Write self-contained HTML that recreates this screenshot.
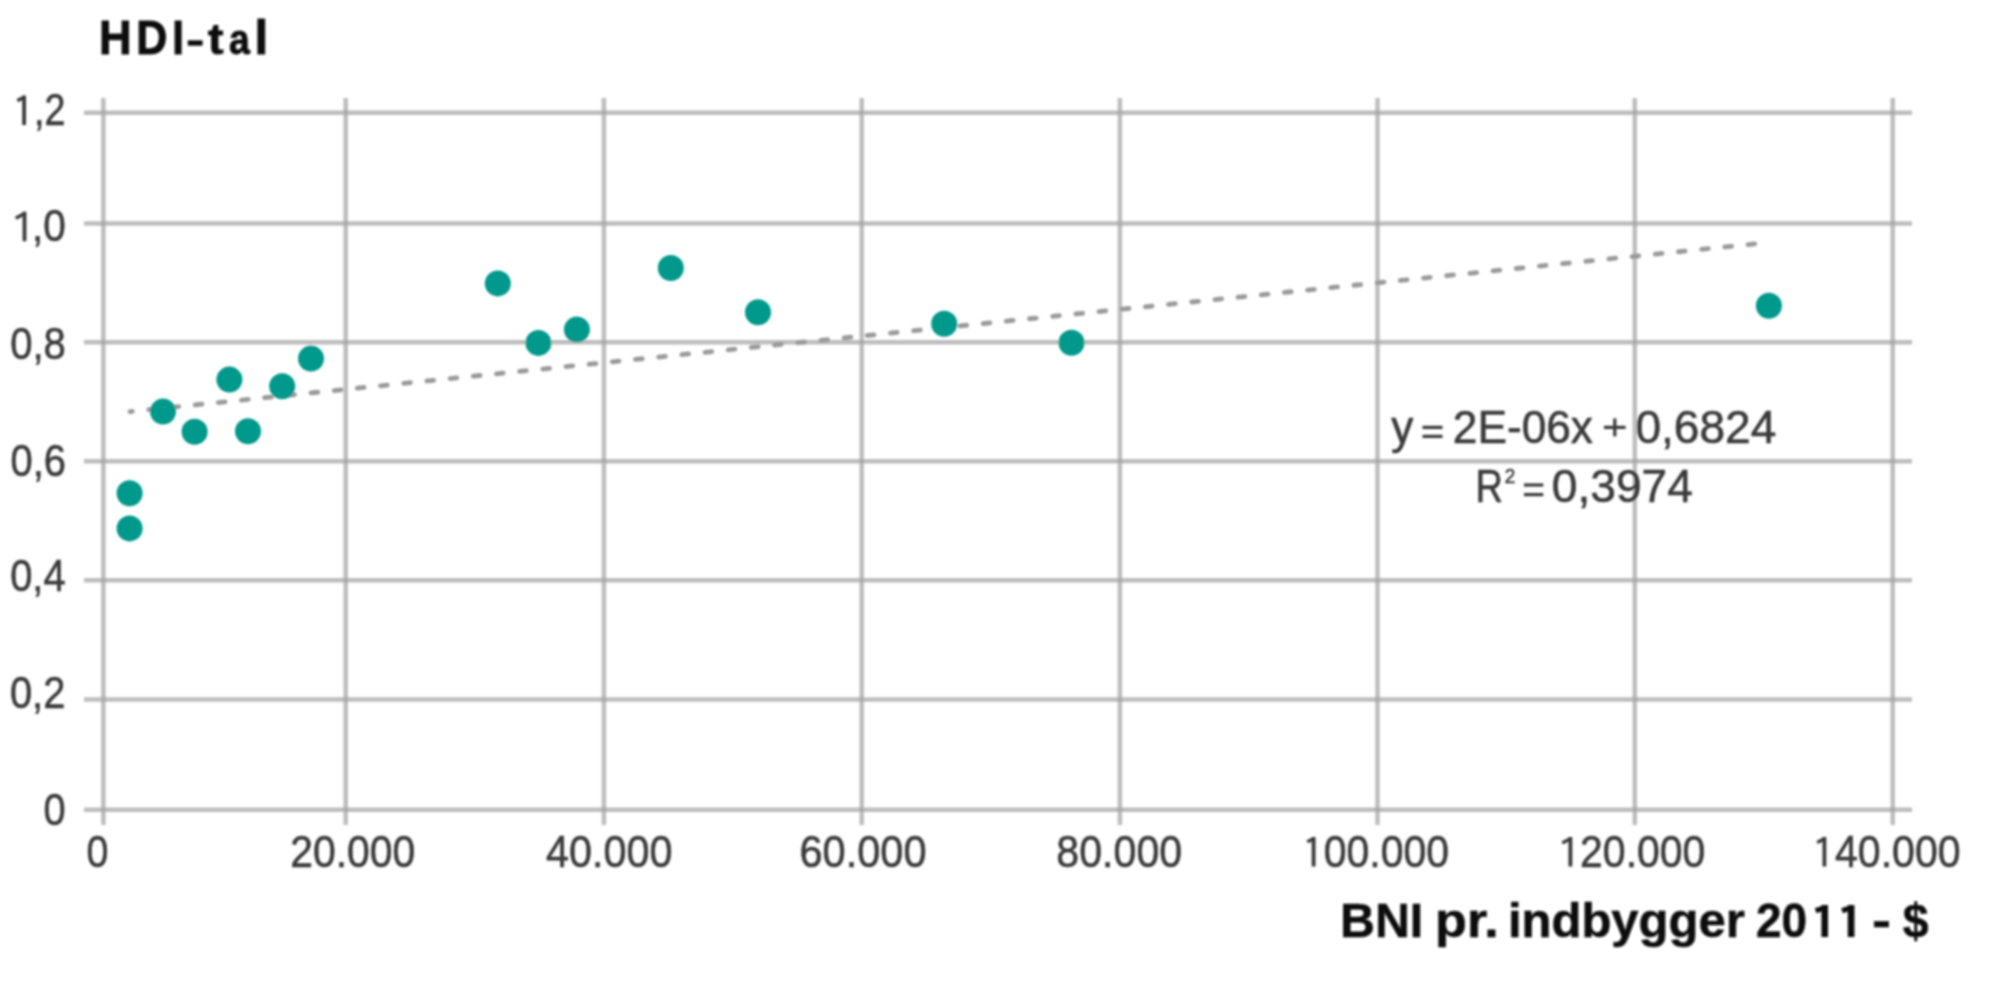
<!DOCTYPE html>
<html><head><meta charset="utf-8"><style>
html,body{margin:0;padding:0;background:#fff;width:2000px;height:1000px;overflow:hidden}
svg{display:block}
text{font-family:"Liberation Sans",sans-serif}
</style></head><body>
<svg width="2000" height="1000" viewBox="0 0 2000 1000">
<defs><filter id="b" x="0" y="0" width="2000" height="1000" filterUnits="userSpaceOnUse"><feGaussianBlur stdDeviation="1.0"/></filter><filter id="b2" x="0" y="0" width="2000" height="1000" filterUnits="userSpaceOnUse"><feGaussianBlur stdDeviation="0.6"/></filter></defs>
<rect width="2000" height="1000" fill="#fff"/>
<g filter="url(#b)">
<path d="M84 112.7H1912 M84 223.4H1912 M84 342.2H1912 M84 461.2H1912 M84 580.3H1912 M84 699.4H1912 M84 809.7H1912 M103.4 98V825 M345.7 98V825 M603.9 98V825 M861.7 98V825 M1119.9 98V825 M1377.5 98V825 M1634.8 98V825 M1892.7 98V825" stroke="#bdbdbd" stroke-width="4.5" fill="none"/>
<g fill="#aaaaaa"><rect x="101.15" y="110.45" width="4.5" height="4.5"/><rect x="101.15" y="221.15" width="4.5" height="4.5"/><rect x="101.15" y="339.95" width="4.5" height="4.5"/><rect x="101.15" y="458.95" width="4.5" height="4.5"/><rect x="101.15" y="578.05" width="4.5" height="4.5"/><rect x="101.15" y="697.15" width="4.5" height="4.5"/><rect x="101.15" y="807.45" width="4.5" height="4.5"/><rect x="343.45" y="110.45" width="4.5" height="4.5"/><rect x="343.45" y="221.15" width="4.5" height="4.5"/><rect x="343.45" y="339.95" width="4.5" height="4.5"/><rect x="343.45" y="458.95" width="4.5" height="4.5"/><rect x="343.45" y="578.05" width="4.5" height="4.5"/><rect x="343.45" y="697.15" width="4.5" height="4.5"/><rect x="343.45" y="807.45" width="4.5" height="4.5"/><rect x="601.65" y="110.45" width="4.5" height="4.5"/><rect x="601.65" y="221.15" width="4.5" height="4.5"/><rect x="601.65" y="339.95" width="4.5" height="4.5"/><rect x="601.65" y="458.95" width="4.5" height="4.5"/><rect x="601.65" y="578.05" width="4.5" height="4.5"/><rect x="601.65" y="697.15" width="4.5" height="4.5"/><rect x="601.65" y="807.45" width="4.5" height="4.5"/><rect x="859.45" y="110.45" width="4.5" height="4.5"/><rect x="859.45" y="221.15" width="4.5" height="4.5"/><rect x="859.45" y="339.95" width="4.5" height="4.5"/><rect x="859.45" y="458.95" width="4.5" height="4.5"/><rect x="859.45" y="578.05" width="4.5" height="4.5"/><rect x="859.45" y="697.15" width="4.5" height="4.5"/><rect x="859.45" y="807.45" width="4.5" height="4.5"/><rect x="1117.65" y="110.45" width="4.5" height="4.5"/><rect x="1117.65" y="221.15" width="4.5" height="4.5"/><rect x="1117.65" y="339.95" width="4.5" height="4.5"/><rect x="1117.65" y="458.95" width="4.5" height="4.5"/><rect x="1117.65" y="578.05" width="4.5" height="4.5"/><rect x="1117.65" y="697.15" width="4.5" height="4.5"/><rect x="1117.65" y="807.45" width="4.5" height="4.5"/><rect x="1375.25" y="110.45" width="4.5" height="4.5"/><rect x="1375.25" y="221.15" width="4.5" height="4.5"/><rect x="1375.25" y="339.95" width="4.5" height="4.5"/><rect x="1375.25" y="458.95" width="4.5" height="4.5"/><rect x="1375.25" y="578.05" width="4.5" height="4.5"/><rect x="1375.25" y="697.15" width="4.5" height="4.5"/><rect x="1375.25" y="807.45" width="4.5" height="4.5"/><rect x="1632.55" y="110.45" width="4.5" height="4.5"/><rect x="1632.55" y="221.15" width="4.5" height="4.5"/><rect x="1632.55" y="339.95" width="4.5" height="4.5"/><rect x="1632.55" y="458.95" width="4.5" height="4.5"/><rect x="1632.55" y="578.05" width="4.5" height="4.5"/><rect x="1632.55" y="697.15" width="4.5" height="4.5"/><rect x="1632.55" y="807.45" width="4.5" height="4.5"/><rect x="1890.45" y="110.45" width="4.5" height="4.5"/><rect x="1890.45" y="221.15" width="4.5" height="4.5"/><rect x="1890.45" y="339.95" width="4.5" height="4.5"/><rect x="1890.45" y="458.95" width="4.5" height="4.5"/><rect x="1890.45" y="578.05" width="4.5" height="4.5"/><rect x="1890.45" y="697.15" width="4.5" height="4.5"/><rect x="1890.45" y="807.45" width="4.5" height="4.5"/></g>
<line x1="130" y1="411.64" x2="1758" y2="243.53" stroke="#9a9a9a" stroke-width="4.8" stroke-dasharray="6.76 16.54" stroke-dashoffset="4.4399999999999995" stroke-linecap="round" filter="url(#b2)"/>
<circle cx="129.6" cy="493.2" r="13" fill="#00998b"/>
<circle cx="129.6" cy="528.4" r="13" fill="#00998b"/>
<circle cx="163" cy="411.6" r="13" fill="#00998b"/>
<circle cx="194.6" cy="431.8" r="13" fill="#00998b"/>
<circle cx="229.4" cy="379.6" r="13" fill="#00998b"/>
<circle cx="248" cy="431.2" r="13" fill="#00998b"/>
<circle cx="282.2" cy="386.2" r="13" fill="#00998b"/>
<circle cx="311" cy="358.6" r="13" fill="#00998b"/>
<circle cx="497.8" cy="283.4" r="13" fill="#00998b"/>
<circle cx="538.4" cy="342.9" r="13" fill="#00998b"/>
<circle cx="576.9" cy="329.6" r="13" fill="#00998b"/>
<circle cx="670.8" cy="268" r="13" fill="#00998b"/>
<circle cx="758" cy="312.3" r="13" fill="#00998b"/>
<circle cx="944.2" cy="323.7" r="13" fill="#00998b"/>
<circle cx="1071.5" cy="342.7" r="13" fill="#00998b"/>
<circle cx="1768.9" cy="305.8" r="13" fill="#00998b"/>
<text transform="translate(33.99,125) scale(0.8382,1.0)" font-size="45" fill="#3a3a3a" stroke="#3a3a3a" stroke-width="0.6">,2</text>
<text transform="translate(32.1,241.2) scale(0.9,1.0)" font-size="45" fill="#3a3a3a" stroke="#3a3a3a" stroke-width="0.6">,0</text>
<text transform="translate(10.2,359.1) scale(0.8903,1.0)" font-size="45" fill="#3a3a3a" stroke="#3a3a3a" stroke-width="0.6">0,8</text>
<text transform="translate(10.5,475.5) scale(0.8871,1.0)" font-size="45" fill="#3a3a3a" stroke="#3a3a3a" stroke-width="0.6">0,6</text>
<text transform="translate(10.2,591.4) scale(0.8855,1.0)" font-size="45" fill="#3a3a3a" stroke="#3a3a3a" stroke-width="0.6">0,4</text>
<text transform="translate(9.9,707.8) scale(0.8855,1.0)" font-size="45" fill="#3a3a3a" stroke="#3a3a3a" stroke-width="0.6">0,2</text>
<text transform="translate(43.4,824.7) scale(0.884,1.0)" font-size="45" fill="#3a3a3a" stroke="#3a3a3a" stroke-width="0.6">0</text>
<text transform="translate(86.4,866.5) scale(0.876,1.0)" font-size="45" fill="#3a3a3a" stroke="#3a3a3a" stroke-width="0.6">0</text>
<text transform="translate(290.29,866.5) scale(0.9088,1.0)" font-size="45" fill="#3a3a3a" stroke="#3a3a3a" stroke-width="0.6">20.000</text>
<text transform="translate(546.0,866.5) scale(0.9197,1.0)" font-size="45" fill="#3a3a3a" stroke="#3a3a3a" stroke-width="0.6">40.000</text>
<text transform="translate(799.48,866.5) scale(0.9235,1.0)" font-size="45" fill="#3a3a3a" stroke="#3a3a3a" stroke-width="0.6">60.000</text>
<text transform="translate(1056.29,866.5) scale(0.9147,1.0)" font-size="45" fill="#3a3a3a" stroke="#3a3a3a" stroke-width="0.6">80.000</text>
<text transform="translate(1323.75,866.5) scale(0.9099,1.0)" font-size="45" fill="#3a3a3a" stroke="#3a3a3a" stroke-width="0.6">00.000</text>
<text transform="translate(1580.09,866.5) scale(0.9103,1.0)" font-size="45" fill="#3a3a3a" stroke="#3a3a3a" stroke-width="0.6">20.000</text>
<text transform="translate(1835.0,866.5) scale(0.9131,1.0)" font-size="45" fill="#3a3a3a" stroke="#3a3a3a" stroke-width="0.6">40.000</text>
<text transform="translate(1391.16,443.1) scale(0.96,1.0)" font-size="46" fill="#3a3a3a" stroke="#3a3a3a" stroke-width="0.6">y</text>
<text transform="translate(1452.84,443.1) scale(0.9614,1.0)" font-size="46" fill="#3a3a3a" stroke="#3a3a3a" stroke-width="0.6">2E-06x</text>
<text transform="translate(1635.4,443.1) scale(1.0014,1.0)" font-size="46" fill="#3a3a3a" stroke="#3a3a3a" stroke-width="0.6">0,6824</text>
<text transform="translate(1504.8,483.3) scale(0.9,1.0)" font-size="21" fill="#3a3a3a" stroke="#3a3a3a" stroke-width="0.6">2</text>
<text transform="translate(1475.54,501.7) scale(0.8276,1.0)" font-size="46" fill="#3a3a3a" stroke="#3a3a3a" stroke-width="0.6">R</text>
<text transform="translate(1551.8,501.7) scale(1.0029,1.0)" font-size="46" fill="#3a3a3a" stroke="#3a3a3a" stroke-width="0.6">0,3974</text>
<text transform="translate(99.1,54.2) scale(0.9516,1)" font-size="47.5" fill="#111" font-weight="bold" stroke="#111" stroke-width="1.0">H</text>
<text transform="translate(136.19,54.2) scale(0.9062,1)" font-size="47.5" fill="#111" font-weight="bold" stroke="#111" stroke-width="1.0">D</text>
<text transform="translate(172.22,54.2) scale(0.8889,1)" font-size="47.5" fill="#111" font-weight="bold" stroke="#111" stroke-width="1.0">I</text>
<text transform="translate(207.98,54.2) scale(0.9778,0.88)" font-size="47.5" fill="#111" font-weight="bold" stroke="#111" stroke-width="1.0">t</text>
<text transform="translate(229.0,54.2) scale(0.7857,0.91)" font-size="47.5" fill="#111" font-weight="bold" stroke="#111" stroke-width="1.0">a</text>
<text transform="translate(254.43,54.2) scale(1.0333,1)" font-size="47.5" fill="#111" font-weight="bold" stroke="#111" stroke-width="1.0">l</text>
<text transform="translate(1339.96,937) scale(1.0192,1.0)" font-size="47.5" fill="#111" font-weight="bold" stroke="#111" stroke-width="0.5">BNI</text>
<text transform="translate(1435.06,937) scale(1.0972,1.0)" font-size="47.5" fill="#111" font-weight="bold" stroke="#111" stroke-width="0.5">pr.</text>
<text transform="translate(1507.94,937) scale(1.0316,1.0)" font-size="47.5" fill="#111" font-weight="bold" stroke="#111" stroke-width="0.5">indbygger</text>
<text transform="translate(1756.0,937) scale(0.9692,1.0)" font-size="47.5" fill="#111" font-weight="bold" stroke="#111" stroke-width="0.5">20</text>
<text transform="translate(1872.0,937) scale(1.2,1.0)" font-size="47.5" fill="#111" font-weight="bold" stroke="#111" stroke-width="0.5">-</text>
<text transform="translate(1902.8,937) scale(0.9778,1.0)" font-size="47.5" fill="#111" font-weight="bold" stroke="#111" stroke-width="0.5">$</text>
<rect x="1422.5" y="425.79999999999995" width="20.0" height="3.2" fill="#3a3a3a"/>
<rect x="1422.5" y="434.79999999999995" width="20.0" height="3.2" fill="#3a3a3a"/>
<rect x="1524" y="483.4" width="19.299999999999955" height="3.2" fill="#3a3a3a"/>
<rect x="1524" y="493.0" width="19.299999999999955" height="3.2" fill="#3a3a3a"/>
<rect x="1604" y="425.79999999999995" width="21.59999999999991" height="3.2" fill="#3a3a3a"/>
<rect x="1613.2" y="418.4" width="3.2" height="18.0" fill="#3a3a3a"/>
<rect x="22.20" y="95.50" width="3.8" height="29.50" fill="#3a3a3a"/><line x1="24.10" y1="97.20" x2="17.31" y2="100.62" stroke="#3a3a3a" stroke-width="3.4" stroke-linecap="butt"/>
<rect x="22.60" y="211.70" width="3.8" height="29.50" fill="#3a3a3a"/><line x1="24.50" y1="213.40" x2="15.76" y2="218.19" stroke="#3a3a3a" stroke-width="3.4" stroke-linecap="butt"/>
<rect x="1311.70" y="837.00" width="3.8" height="29.50" fill="#3a3a3a"/><line x1="1313.60" y1="838.70" x2="1307.26" y2="841.81" stroke="#3a3a3a" stroke-width="3.4" stroke-linecap="butt"/>
<rect x="1568.50" y="837.00" width="3.8" height="29.50" fill="#3a3a3a"/><line x1="1570.40" y1="838.70" x2="1562.26" y2="843.07" stroke="#3a3a3a" stroke-width="3.4" stroke-linecap="butt"/>
<rect x="1822.50" y="837.00" width="3.8" height="29.50" fill="#3a3a3a"/><line x1="1824.40" y1="838.70" x2="1817.16" y2="842.44" stroke="#3a3a3a" stroke-width="3.4" stroke-linecap="butt"/>
<rect x="1821.40" y="905.00" width="6.6" height="32.00" fill="#111"/><line x1="1824.70" y1="907.60" x2="1815.68" y2="910.75" stroke="#111" stroke-width="5.2" stroke-linecap="butt"/>
<rect x="1847.80" y="905.00" width="6.6" height="32.00" fill="#111"/><line x1="1851.10" y1="907.60" x2="1842.08" y2="910.75" stroke="#111" stroke-width="5.2" stroke-linecap="butt"/>
<rect x="187.8" y="40.3" width="14.8" height="5.4" fill="#111"/>
</g></svg></body></html>
